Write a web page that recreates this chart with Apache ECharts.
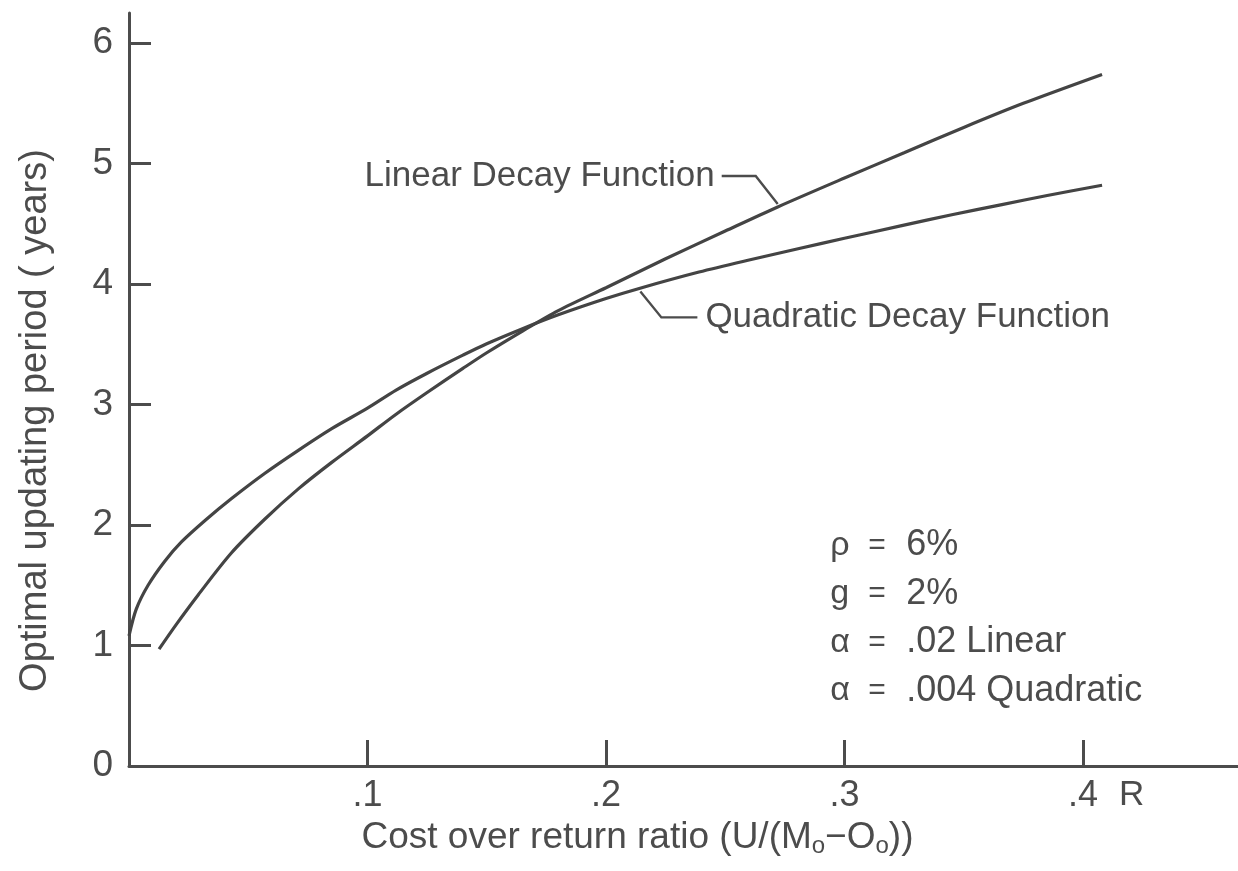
<!DOCTYPE html>
<html>
<head>
<meta charset="utf-8">
<script src="https://cdn.jsdelivr.net/npm/echarts@6/dist/echarts.min.js"></script>
<style>
html,body{margin:0;padding:0;background:#fff;}
#c{width:1238px;height:871px;}
</style>
</head>
<body>
<div id="c"></div>
<script>
// ---- data ----
const xTickValues = [0.1, 0.2, 0.3, 0.4];
const xTickLabels = ['.1', '.2', '.3', '.4'];
const yTickValues = [1, 2, 3, 4, 5, 6];
const yLabelValues = [0, 1, 2, 3, 4, 5, 6];
const yLabelTexts = ['0', '1', '2', '3', '4', '5', '6'];

const linearX = [0.0126, 0.02, 0.029, 0.043, 0.057, 0.071, 0.085, 0.1, 0.112, 0.125, 0.14, 0.15, 0.165, 0.18, 0.2, 0.225, 0.25, 0.272, 0.3, 0.325, 0.35, 0.375, 0.408];
const linearY = [0.97, 1.18, 1.42, 1.77, 2.05, 2.3, 2.52, 2.74, 2.92, 3.1, 3.3, 3.43, 3.61, 3.78, 3.97, 4.21, 4.44, 4.64, 4.88, 5.09, 5.3, 5.5, 5.74];

const quadX = [0, 0.003, 0.008, 0.015, 0.022, 0.032, 0.043, 0.057, 0.071, 0.085, 0.1, 0.112, 0.125, 0.14, 0.15, 0.165, 0.18, 0.2, 0.215, 0.239, 0.26, 0.281, 0.3, 0.324, 0.345, 0.366, 0.385, 0.408];
const quadY = [1.08, 1.3, 1.5, 1.7, 1.86, 2.04, 2.22, 2.43, 2.62, 2.8, 2.97, 3.12, 3.26, 3.41, 3.505, 3.63, 3.745, 3.88, 3.97, 4.1, 4.2, 4.295, 4.38, 4.485, 4.575, 4.66, 4.735, 4.82];

const seriesNames = ['Linear Decay Function', 'Quadratic Decay Function'];
// annotation anchors (data x on each curve)
const linearAnchorX = 0.272;
const quadAnchorX = 0.214;

const paramSymbols = ['ρ', 'g', 'α', 'α'];
const paramValues = ['6%', '2%', '.02 Linear', '.004 Quadratic'];

const xName = 'Cost over return ratio';
const yName = 'Optimal updating period ( years)';

// ---- chart ----
const FONT = '"Liberation Sans", Arial, sans-serif';
const INK = '#4c4c4c';
const chart = echarts.init(document.getElementById('c'));

function pairs(xs, ys) { return xs.map((x, i) => [x, ys[i]]); }
function interp(xs, ys, x) {
  for (let i = 0; i < xs.length - 1; i++) {
    if (x >= xs[i] && x <= xs[i + 1]) {
      const t = (x - xs[i]) / (xs[i + 1] - xs[i]);
      return ys[i] + t * (ys[i + 1] - ys[i]);
    }
  }
  return ys[ys.length - 1];
}

const option = {
  backgroundColor: '#ffffff',
  animation: false,
  grid: { left: 129, right: 0, top: 13, bottom: 105 },
  xAxis: {
    type: 'value', min: 0, max: 0.465, interval: 0.1,
    axisLine: { lineStyle: { color: INK, width: 3 } },
    axisTick: { inside: true, length: 26, lineStyle: { color: INK, width: 3 }, customValues: xTickValues },
    axisLabel: {
      customValues: xTickValues, margin: 12, color: INK, fontSize: 36, fontFamily: FONT,
      formatter: v => { const i = xTickValues.findIndex(t => Math.abs(t - v) < 1e-9); return i >= 0 ? xTickLabels[i] : ''; }
    },
    splitLine: { show: false },
    name: '{n|' + xName + ' (U/(M}{s|o}{n|−O}{s|o}{n|))}',
    nameLocation: 'middle', nameGap: 42,
    nameTextStyle: {
      padding: [0, 92, 0, 0],
      rich: {
        n: { fontSize: 37, fontFamily: FONT, color: INK },
        s: { fontSize: 24, fontFamily: FONT, color: INK, padding: [18, 0, 0, 0] }
      }
    }
  },
  yAxis: {
    type: 'value', min: 0, max: 6.25, interval: 1,
    axisLine: { lineStyle: { color: INK, width: 3 } },
    axisTick: { inside: true, length: 22, lineStyle: { color: INK, width: 3 }, customValues: yTickValues },
    axisLabel: {
      customValues: yLabelValues, margin: 16, color: INK, fontSize: 37, fontFamily: FONT,
      formatter: v => { const i = yLabelValues.indexOf(Math.round(v)); return i >= 0 ? yLabelTexts[i] : ''; }
    },
    splitLine: { show: false },
    name: yName, nameLocation: 'middle', nameRotate: 90, nameGap: 74,
    nameTextStyle: { fontSize: 38, fontFamily: FONT, color: INK, padding: [0, 62, 0, 0] }
  },
  series: [
    {
      name: seriesNames[0], type: 'line', data: pairs(linearX, linearY),
      showSymbol: false, smooth: 0.3,
      lineStyle: { color: '#444444', width: 3.2 }
    },
    {
      name: seriesNames[1], type: 'line', data: pairs(quadX, quadY),
      showSymbol: false, smooth: 0.3,
      lineStyle: { color: '#444444', width: 3.2 }
    }
  ]
};
chart.setOption(option);

// ---- annotations placed through the chart's own scales ----
const linTip = chart.convertToPixel({ gridIndex: 0 }, [linearAnchorX, interp(linearX, linearY, linearAnchorX)]);
const quadTip = chart.convertToPixel({ gridIndex: 0 }, [quadAnchorX, interp(quadX, quadY, quadAnchorX)]);
const rPos = chart.convertToPixel({ gridIndex: 0 }, [xTickValues[3], 0]);
const paramAnchor = chart.convertToPixel({ gridIndex: 0 }, [0.294, 1.83]);

const txt = (text, x, y, size, align) => ({
  type: 'text', x: x, y: y, silent: true,
  style: { text: text, fontSize: size, fontFamily: FONT, fill: INK, textAlign: align || 'left', textVerticalAlign: 'middle' }
});

const graphics = [];
// Linear label + leader
graphics.push(txt(seriesNames[0], linTip[0] - 63, linTip[1] - 31, 35, 'right'));
graphics.push({
  type: 'polyline', silent: true,
  shape: { points: [[linTip[0] - 56, linTip[1] - 31], [linTip[0] - 22, linTip[1] - 31], [linTip[0], linTip[1] - 3]] },
  style: { stroke: INK, lineWidth: 2.4, fill: null }
});
// Quadratic label + leader
graphics.push(txt(seriesNames[1], quadTip[0] + 66, quadTip[1] + 29, 35, 'left'));
graphics.push({
  type: 'polyline', silent: true,
  shape: { points: [[quadTip[0] + 1, quadTip[1] + 3], [quadTip[0] + 22, quadTip[1] + 29], [quadTip[0] + 58, quadTip[1] + 29]] },
  style: { stroke: INK, lineWidth: 2.4, fill: null }
});
// R axis symbol
graphics.push(txt('R', rPos[0] + 36, rPos[1] + 29, 35, 'left'));
// parameter block
for (let i = 0; i < paramSymbols.length; i++) {
  const y = paramAnchor[1] + i * 48.5;
  graphics.push(txt(paramSymbols[i], paramAnchor[0], y, 34, 'left'));
  graphics.push(txt('=', paramAnchor[0] + 38, y, 30, 'left'));
  graphics.push(txt(paramValues[i], paramAnchor[0] + 76, y, 36, 'left'));
}
chart.setOption({ graphic: graphics });
</script>
</body>
</html>
